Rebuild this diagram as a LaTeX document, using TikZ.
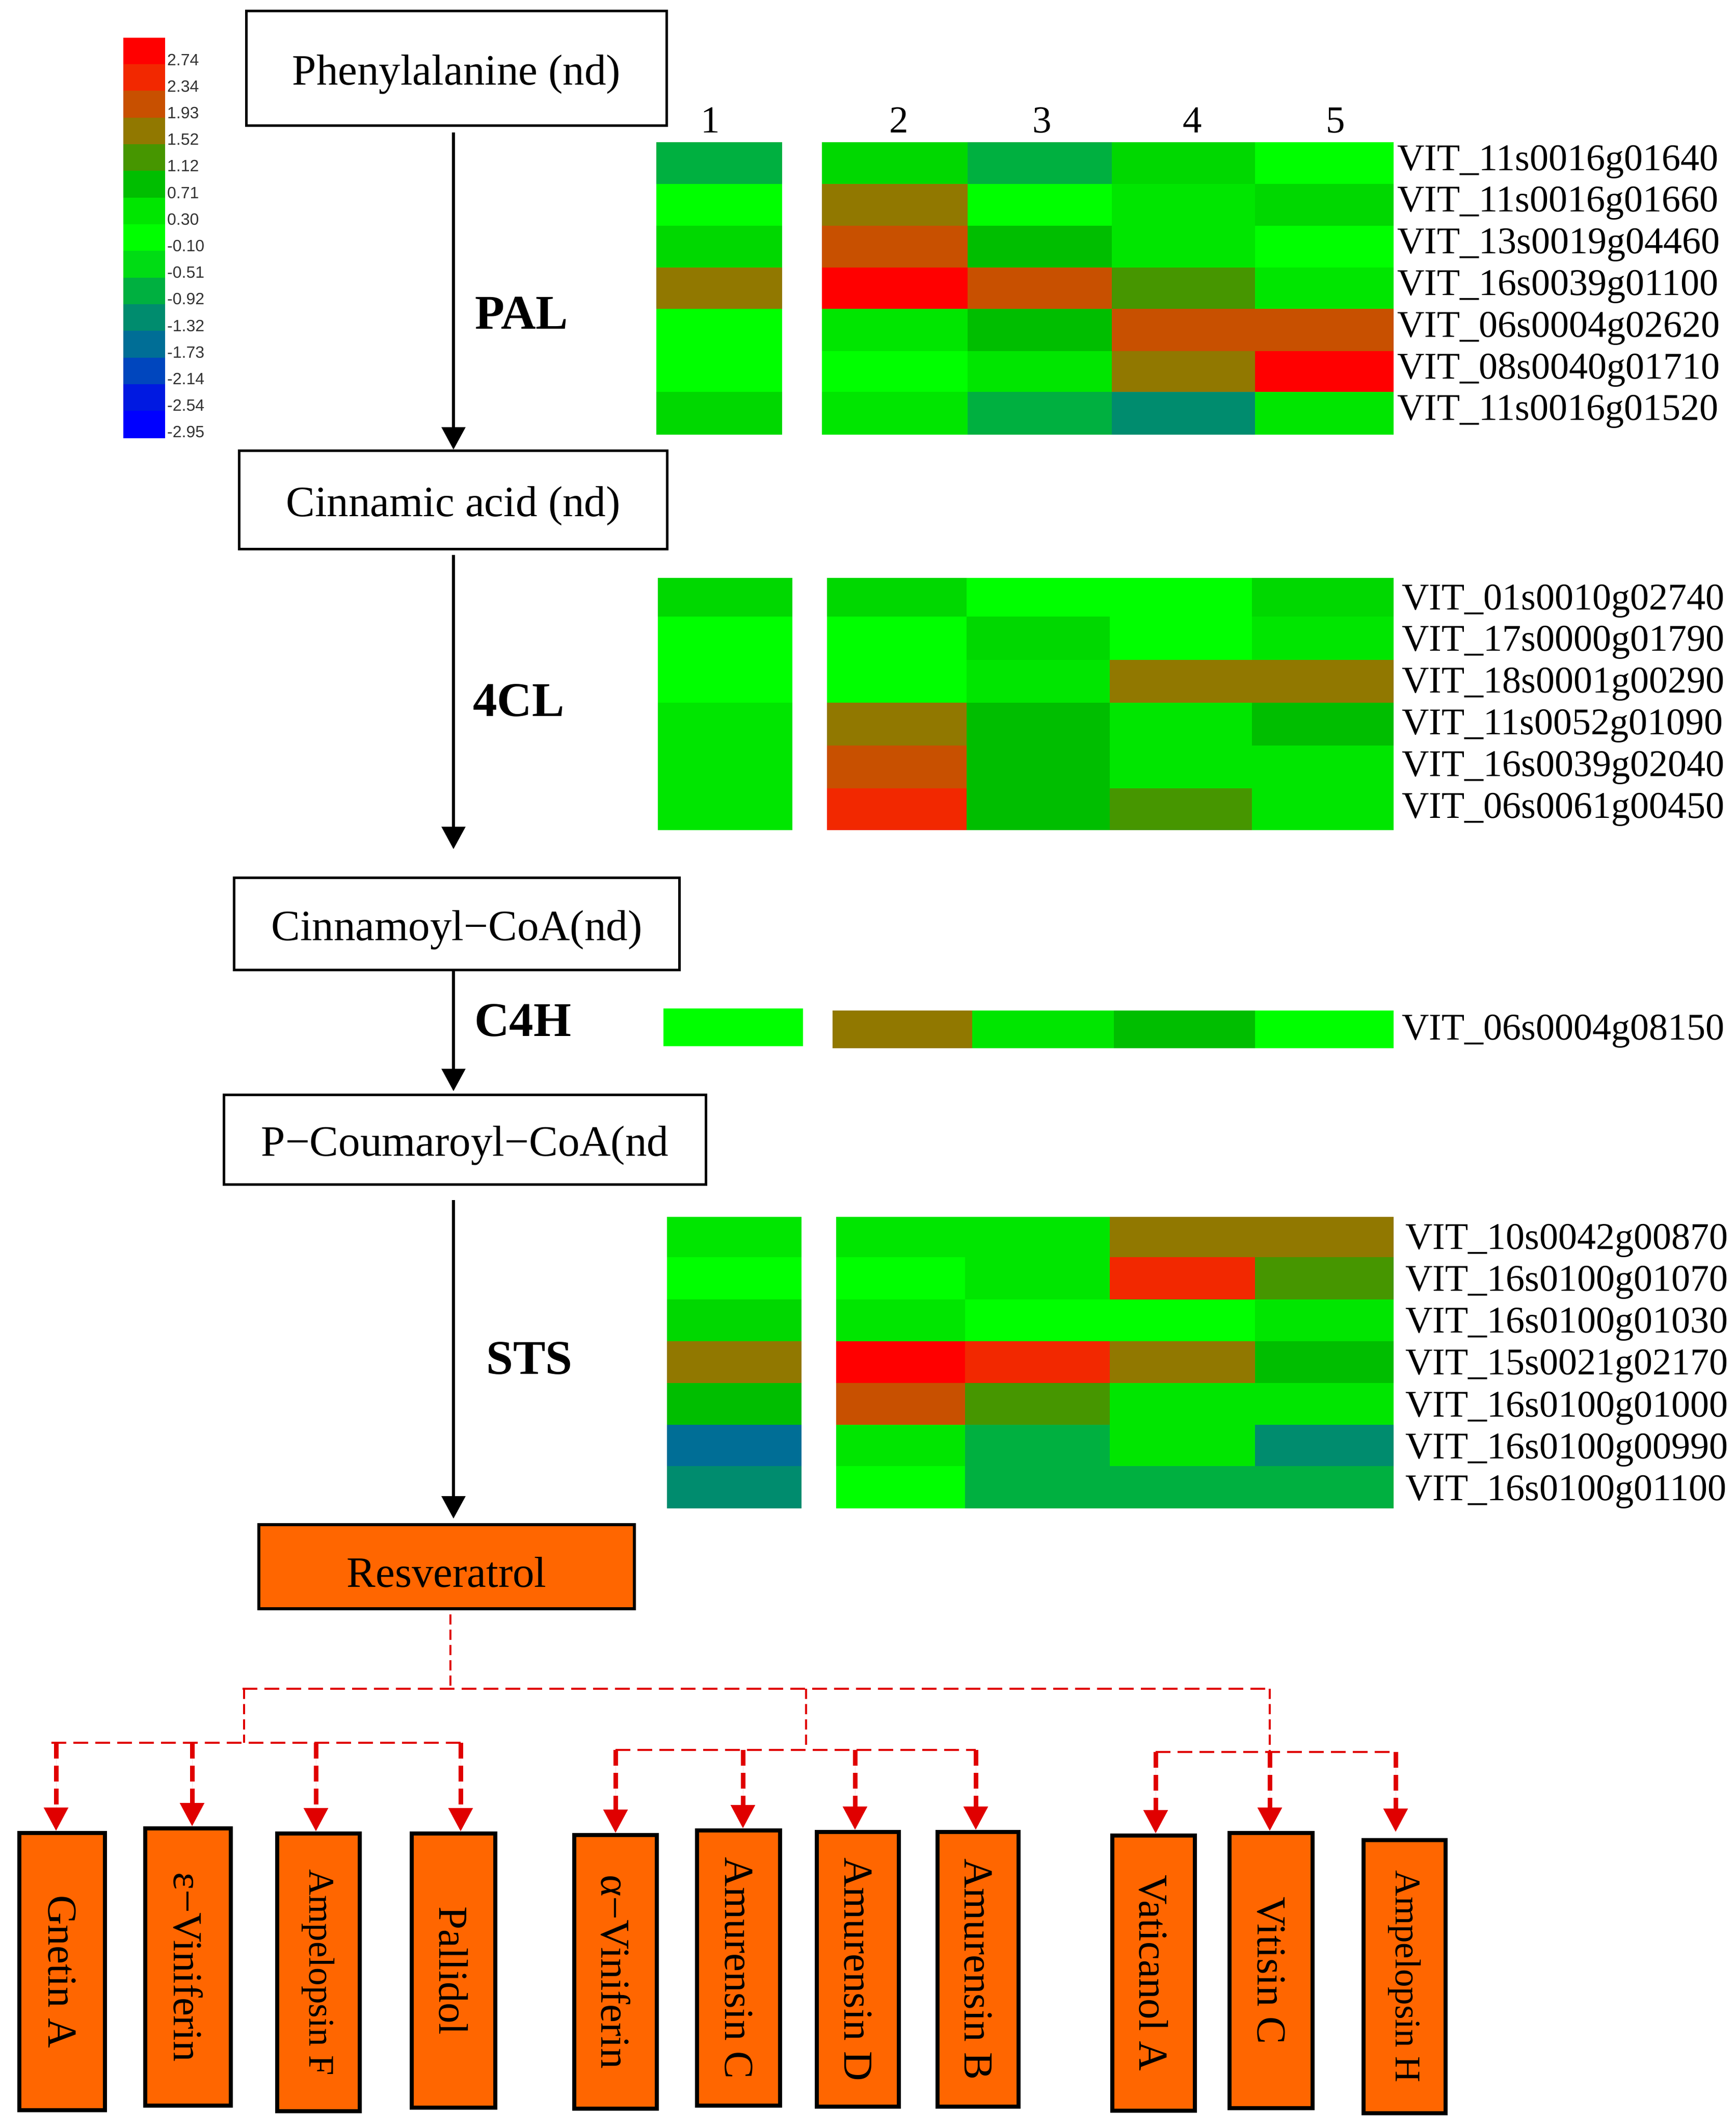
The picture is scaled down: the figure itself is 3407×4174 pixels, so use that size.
\documentclass[tikz,border=0pt]{standalone}
\usepackage{fontspec}
\setmainfont{Liberation Serif}
\newfontfamily\lsans{Liberation Sans}
\usepackage{graphicx}
\usetikzlibrary{arrows.meta}
\definecolor{cX}{HTML}{FF0000}
\definecolor{cR}{HTML}{F22800}
\definecolor{cC}{HTML}{C85000}
\definecolor{cO}{HTML}{917800}
\definecolor{cL}{HTML}{469600}
\definecolor{cG}{HTML}{00BE00}
\definecolor{cE}{HTML}{00E600}
\definecolor{cF}{HTML}{00FF00}
\definecolor{cD}{HTML}{00D800}
\definecolor{cM}{HTML}{00DC14}
\definecolor{cT}{HTML}{00B040}
\definecolor{cQ}{HTML}{008C6E}
\definecolor{cB}{HTML}{006E96}
\definecolor{cBb}{HTML}{0046BE}
\definecolor{cBc}{HTML}{0019E1}
\definecolor{cBd}{HTML}{0000FF}
\definecolor{orfill}{HTML}{FF6600}
\definecolor{dred}{HTML}{E00000}
\tikzset{
  pbox/.style={draw=black, line width=4.5pt, inner sep=0pt, text height=70pt, text depth=6pt, font=\fontsize{85}{100}\selectfont},
  resbox/.style={draw=black, line width=6pt, fill=orfill, inner sep=0pt, text height=80pt, text depth=0pt, font=\fontsize{85}{100}\selectfont},
  obox/.style={draw=black, line width=8pt, fill=orfill, inner sep=0pt, font=\fontsize{81}{90}\selectfont},
  oboxs/.style={obox, font=\fontsize{71}{80}\selectfont},
  blk/.style={draw=black, line width=6pt, -{Triangle[width=46pt,length=44pt]}},
  enz/.style={anchor=base west, inner sep=0pt, font=\fontsize{95}{110}\selectfont\bfseries},
  gene/.style={anchor=base west, inner sep=0pt, font=\fontsize{74}{80}\selectfont},
  coln/.style={anchor=base, inner sep=0pt, font=\fontsize{75}{80}\selectfont},
  leg/.style={anchor=west, inner sep=0pt, text=black!80, font=\lsans\fontsize{32}{36}\selectfont},
  cell/.style={fill=#1, draw=#1, line width=0.8pt},
  rline/.style={draw=dred, line width=3.5pt, dash pattern=on 29pt off 14pt},
  rvline/.style={draw=dred, line width=4pt, dash pattern=on 20pt off 10pt},
  rarr/.style={draw=dred, fill=dred, line width=9pt, dash pattern=on 31pt off 14pt, -{Triangle[width=46pt,length=46pt]}}
}
\begin{document}
\begin{tikzpicture}[x=1pt,y=-1pt]
\useasboundingbox (0,0) rectangle (3407,4174);

% ---------- legend ----------
\foreach \c/\l [count=\i from 0] in {cX/2.74,cR/2.34,cC/1.93,cO/1.52,cL/1.12,cG/0.71,cE/0.30,cF/-0.10,cM/-0.51,cT/-0.92,cQ/-1.32,cB/-1.73,cBb/-2.14,cBc/-2.54,cBd/-2.95}{
  \path[cell=\c] (242,{74+52.33*\i}) rectangle (323,{126.33+52.33*\i});
  \node[leg] (lg\i) at (328,{117+52.2*\i}) {\l};
}

% ---------- pathway ----------
\node[pbox, minimum width=825, minimum height=225] (phe) at (896,134) {Phenylalanine (nd)};
\node[pbox, minimum width=840, minimum height=193] (cin) at (889.5,981) {Cinnamic acid (nd)};
\node[pbox, minimum width=874, minimum height=181] (cinco) at (896.5,1813) {Cinnamoyl−CoA(nd)};
\node[pbox, minimum width=946, minimum height=176] (pcou) at (912.5,2236.5) {P−Coumaroyl−CoA(nd};
\node[resbox, minimum width=737, minimum height=165] (res) at (876.5,3074.5) {Resveratrol};

\coordinate (ax) at (890,0);
\draw[blk, shorten <=11pt] (phe.south -| ax) -- (cin.north -| ax);
\draw[blk, shorten <=9pt, shorten >=54pt] (cin.south -| ax) -- (cinco.north -| ax);
\draw[blk, shorten >=5pt] (cinco.south -| ax) -- (pcou.north -| ax);
\draw[blk, shorten <=28pt, shorten >=9pt] (pcou.south -| ax) -- (res.north -| ax);

\node[enz] (pal) at (932,645) {PAL};
\node[enz] (fcl) at (928,1405) {4CL};
\node[enz] (cfh) at (931,2033) {C4H};
\node[enz] (sts) at (954,2696) {STS};

% ---------- column numbers ----------
\node[coln] (n1) at (1394,260) {1};
\node[coln] (n2) at (1764,260) {2};
\node[coln] (n3) at (2045,260) {3};
\node[coln] (n4) at (2340,260) {4};
\node[coln] (n5) at (2621,260) {5};

% ---------- heatmap PAL ----------
\foreach \ya/\yb/\a/\b/\c/\d/\e in {279/361/cT/cD/cT/cD/cF, 361/443/cF/cO/cF/cE/cD, 443/525/cD/cC/cG/cE/cF, 525/606/cO/cX/cC/cL/cE, 606/689/cF/cE/cG/cC/cC, 689/769/cF/cF/cE/cO/cX, 769/852/cD/cE/cT/cQ/cE}{
  \path[cell=\a] (1288,\ya) rectangle (1534,\yb);
  \path[cell=\b] (1613,\ya) rectangle (1899,\yb);
  \path[cell=\c] (1899,\ya) rectangle (2182,\yb);
  \path[cell=\d] (2182,\ya) rectangle (2463,\yb);
  \path[cell=\e] (2463,\ya) rectangle (2734,\yb);
}
\foreach \g [count=\i from 0] in {VIT\_11s0016g01640,VIT\_11s0016g01660,VIT\_13s0019g04460,VIT\_16s0039g01100,VIT\_06s0004g02620,VIT\_08s0040g01710,VIT\_11s0016g01520}{
  \node[gene] (pg\i) at (2742,{334+81.8*\i}) {\g};
}

% ---------- heatmap 4CL ----------
\foreach \ya/\yb/\a/\b/\c/\d/\e in {1134/1210/cD/cD/cF/cF/cD, 1210/1295/cF/cF/cD/cF/cE, 1295/1379/cF/cF/cE/cO/cO, 1379/1463/cE/cO/cG/cE/cG, 1463/1547/cE/cC/cG/cE/cE, 1547/1628/cE/cR/cG/cL/cE}{
  \path[cell=\a] (1291,\ya) rectangle (1554,\yb);
  \path[cell=\b] (1623,\ya) rectangle (1897,\yb);
  \path[cell=\c] (1897,\ya) rectangle (2178,\yb);
  \path[cell=\d] (2178,\ya) rectangle (2457,\yb);
  \path[cell=\e] (2457,\ya) rectangle (2734,\yb);
}
\foreach \g [count=\i from 0] in {VIT\_01s0010g02740,VIT\_17s0000g01790,VIT\_18s0001g00290,VIT\_11s0052g01090,VIT\_16s0039g02040,VIT\_06s0061g00450}{
  \node[gene] (cg\i) at (2751,{1196+81.8*\i}) {\g};
}

% ---------- heatmap C4H ----------
\path[cell=cF] (1302,1979) rectangle (1575,2052);
\path[cell=cO] (1634,1983) rectangle (1908,2056);
\path[cell=cE] (1908,1983) rectangle (2186,2056);
\path[cell=cG] (2186,1983) rectangle (2463,2056);
\path[cell=cF] (2463,1983) rectangle (2734,2056);
\node[gene] (hg0) at (2751,2040) {VIT\_06s0004g08150};

% ---------- heatmap STS ----------
\foreach \ya/\yb/\a/\b/\c/\d/\e in {2388/2467/cE/cE/cE/cO/cO, 2467/2550/cF/cF/cE/cR/cL, 2550/2632/cD/cE/cF/cF/cE, 2632/2714/cO/cX/cR/cO/cG, 2714/2796/cG/cC/cL/cE/cE, 2796/2877/cB/cE/cT/cE/cQ, 2877/2959/cQ/cF/cT/cT/cT}{
  \path[cell=\a] (1309,\ya) rectangle (1572,\yb);
  \path[cell=\b] (1641,\ya) rectangle (1894,\yb);
  \path[cell=\c] (1894,\ya) rectangle (2178,\yb);
  \path[cell=\d] (2178,\ya) rectangle (2463,\yb);
  \path[cell=\e] (2463,\ya) rectangle (2734,\yb);
}
\foreach \g [count=\i from 0] in {VIT\_10s0042g00870,VIT\_16s0100g01070,VIT\_16s0100g01030,VIT\_15s0021g02170,VIT\_16s0100g01000,VIT\_16s0100g00990,VIT\_16s0100g01100}{
  \node[gene] (sg\i) at (2758,{2451+82.3*\i}) {\g};
}

% ---------- derived compounds ----------
\node[obox, minimum width=168, minimum height=544] (gnetin) at (122,3869) {\rotatebox{-90}{Gnetin A}};
\node[obox, minimum width=168, minimum height=544] (evin) at (369,3860) {\rotatebox{-90}{ε−Viniferin}};
\node[oboxs, minimum width=162, minimum height=545] (ampf) at (625,3870.5) {\rotatebox{-90}{Ampelopsin F}};
\node[obox, minimum width=164, minimum height=538] (pall) at (890,3867) {\rotatebox{-90}{Pallidol}};
\node[obox, minimum width=162, minimum height=537] (avin) at (1208,3869.5) {\rotatebox{-90}{α−Viniferin}};
\node[obox, minimum width=163, minimum height=540] (amc) at (1449.5,3862) {\rotatebox{-90}{Amurensin C}};
\node[obox, minimum width=161, minimum height=539] (amd) at (1683.5,3864.5) {\rotatebox{-90}{Amurensin D}};
\node[obox, minimum width=159, minimum height=539] (amb) at (1919.5,3864.5) {\rotatebox{-90}{Amurensin B}};
\node[obox, minimum width=162, minimum height=540] (vata) at (2264,3872) {\rotatebox{-90}{Vaticanol A}};
\node[obox, minimum width=163, minimum height=540] (vitc) at (2494.5,3867) {\rotatebox{-90}{Vitisin C}};
\node[oboxs, minimum width=161, minimum height=536] (amph) at (2756.5,3879) {\rotatebox{-90}{Ampelopsin H}};

% dashed tree
\coordinate (rs) at (884,3314);
\coordinate (mL) at (476,3314);
\coordinate (mR) at (2492,3314);
\draw[rvline, shorten <=8pt] (res.south -| rs) -- (rs);
\draw[rline] (mL) -- (mR);

\coordinate (g1t) at (479,3314);
\coordinate (g1b) at (479,3420);
\coordinate (g1L) at (101,3420);
\coordinate (g1R) at (913,3420);
\draw[rvline] (g1t) -- (g1b);
\draw[rline] (g1L) -- (g1R);
\coordinate (a1) at (110,3420);
\coordinate (a2) at (377,3420);
\coordinate (a3) at (620,3420);
\coordinate (a4) at (904,3420);
\draw[rarr] (a1) -- (a1 |- gnetin.north);
\draw[rarr] (a2) -- (a2 |- evin.north);
\draw[rarr] (a3) -- (a3 |- ampf.north);
\draw[rarr] (a4) -- (a4 |- pall.north);

\coordinate (g2t) at (1582,3314);
\coordinate (g2b) at (1582,3434);
\coordinate (g2L) at (1208,3434);
\coordinate (g2R) at (1915,3434);
\draw[rvline] (g2t) -- (g2b);
\draw[rline] (g2L) -- (g2R);
\coordinate (a5) at (1208,3434);
\coordinate (a6) at (1458,3434);
\coordinate (a7) at (1678,3434);
\coordinate (a8) at (1915,3434);
\draw[rarr] (a5) -- (a5 |- avin.north);
\draw[rarr] (a6) -- (a6 |- amc.north);
\draw[rarr] (a7) -- (a7 |- amd.north);
\draw[rarr] (a8) -- (a8 |- amb.north);

\coordinate (g3t) at (2492,3314);
\coordinate (g3b) at (2492,3438);
\coordinate (g3L) at (2268,3438);
\coordinate (g3R) at (2739,3438);
\draw[rvline] (g3t) -- (g3b);
\draw[rline] (g3L) -- (g3R);
\coordinate (a9) at (2268,3438);
\coordinate (a10) at (2492,3438);
\coordinate (a11) at (2739,3438);
\draw[rarr] (a9) -- (a9 |- vata.north);
\draw[rarr] (a10) -- (a10 |- vitc.north);
\draw[rarr, shorten >=12pt] (a11) -- (a11 |- amph.north);
\end{tikzpicture}
\end{document}
